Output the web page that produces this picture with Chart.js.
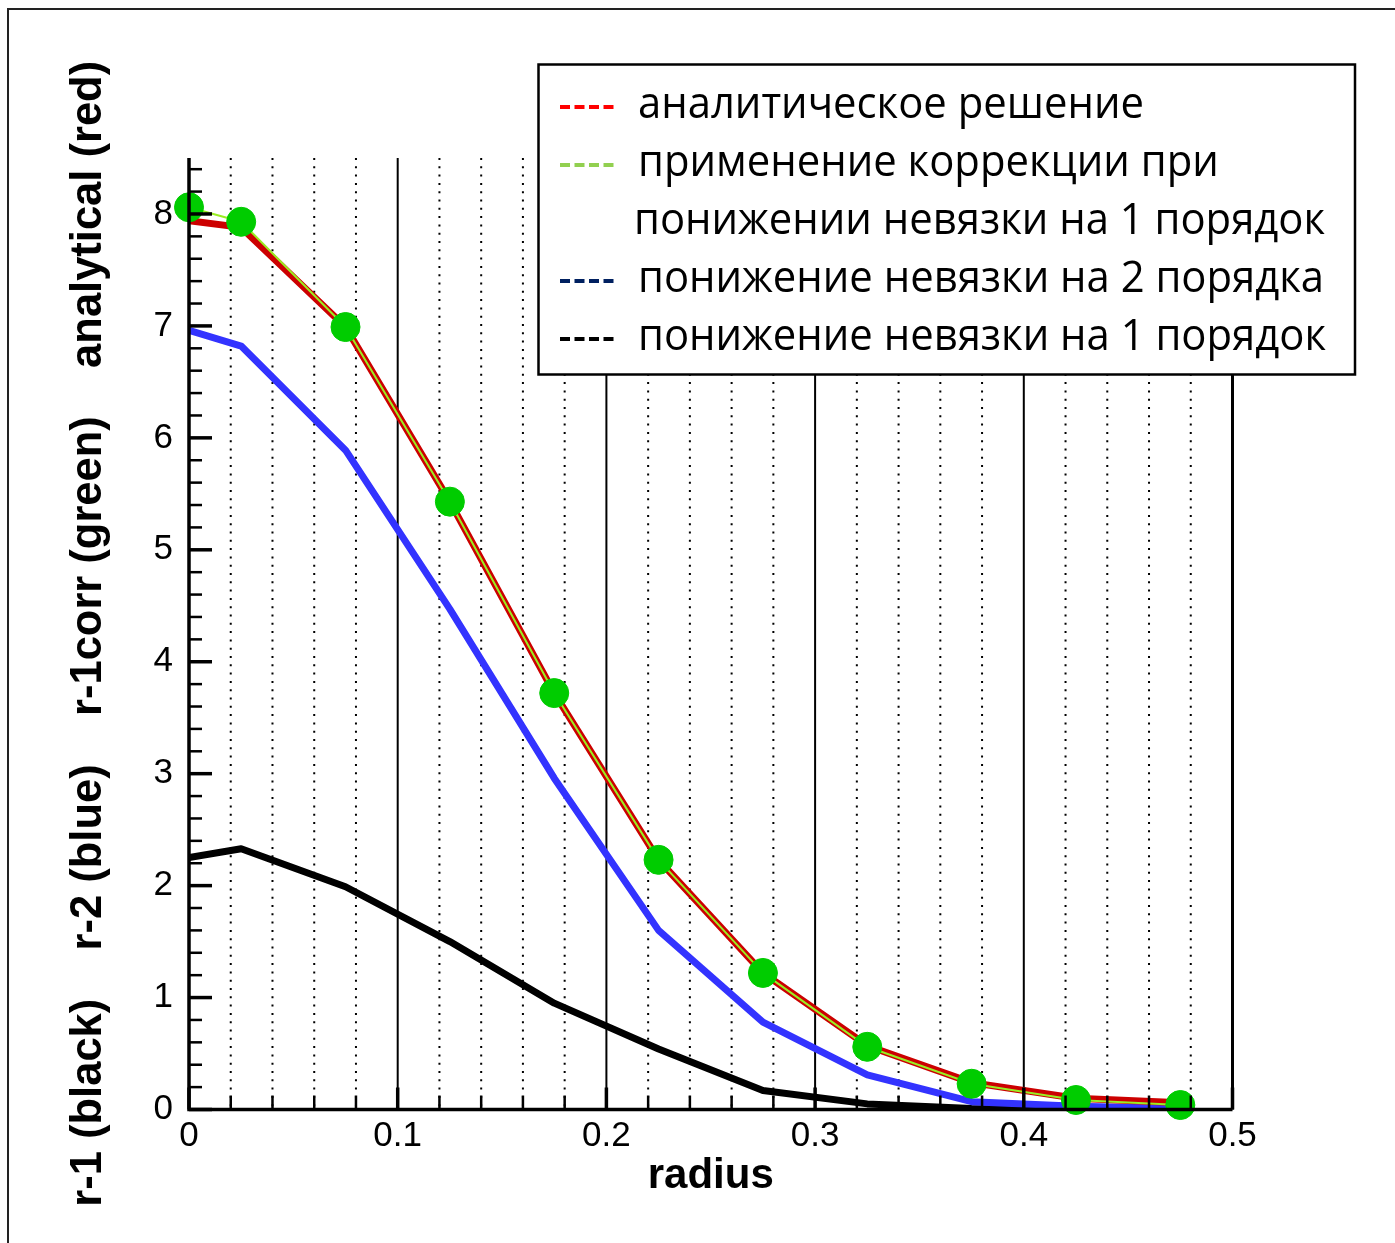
<!DOCTYPE html>
<html>
<head>
<meta charset="utf-8">
<script src="https://cdn.jsdelivr.net/npm/chart.js@4.4.0/dist/chart.umd.min.js"></script>
<style>
html, body { margin: 0; padding: 0; background: #fff; }
canvas { display: block; }
</style>
</head>
<body>
<canvas id="chart" width="1395" height="1243"></canvas>
<script>
// data
var radius     = [0, 0.025, 0.075, 0.125, 0.175, 0.225, 0.275, 0.325, 0.375, 0.425, 0.475];
var analytical = [7.94, 7.88, 6.99, 5.43, 3.72, 2.23, 1.22, 0.57, 0.24, 0.10, 0.06];
var r1corr     = [8.06, 7.93, 6.99, 5.43, 3.72, 2.23, 1.22, 0.56, 0.23, 0.085, 0.04];
var r2         = [6.96, 6.82, 5.89, 4.47, 2.96, 1.60, 0.78, 0.31, 0.07, 0.03, 0.01];
var r1         = [2.25, 2.33, 1.99, 1.50, 0.95, 0.54, 0.17, 0.05, 0.01, 0.0, 0.0];

var xTicks = [0, 0.1, 0.2, 0.3, 0.4, 0.5];
var yTicks = [0, 1, 2, 3, 4, 5, 6, 7, 8];
var xMinorStep = 0.02;
var yMinorStep = 0.2;

var yTitle = 'r-1 (black)    r-2 (blue)    r-1corr (green)    analytical (red)';
var xTitle = 'radius';

var legendLabels = [
    ['аналитическое решение'],
    ['применение коррекции при', 'понижении невязки на 1 порядок'],
    ['понижение невязки на 2 порядка'],
    ['понижение невязки на 1 порядок']
];
var legendColors = ['#ff0000', '#92d050', '#002060', '#000000'];

function pts(ys) {
    return radius.map(function (r, i) { return {x: r, y: ys[i]}; });
}

// frame, grid and inward ticks like the original plot
var framePlugin = {
    id: 'framePlugin',
    beforeDraw: function (chart) {
        var ctx = chart.ctx;
        ctx.save();
        ctx.fillStyle = '#fff';
        ctx.fillRect(0, 0, chart.width, chart.height);
        ctx.strokeStyle = '#222';
        ctx.lineWidth = 2;
        ctx.beginPath();
        ctx.moveTo(8, chart.height);
        ctx.lineTo(8, 9);
        ctx.lineTo(chart.width, 9);
        ctx.stroke();
        ctx.restore();
    },
    beforeDatasetsDraw: function (chart) {
        var ctx = chart.ctx, a = chart.chartArea, xs = chart.scales.x;
        var n = Math.round(xs.max / xMinorStep);
        ctx.save();
        ctx.strokeStyle = '#000';
        for (var i = 1; i <= n; i++) {
            var px = xs.getPixelForValue(i * xMinorStep);
            ctx.beginPath();
            if (i % 5 === 0) {
                ctx.setLineDash([]);
                ctx.lineWidth = i === n ? 3 : 2;
            } else {
                ctx.setLineDash([2, 6.3]);
                ctx.lineWidth = 2;
            }
            ctx.moveTo(px, a.top);
            ctx.lineTo(px, a.bottom);
            ctx.stroke();
        }
        ctx.restore();
    },
    afterDatasetsDraw: function (chart) {
        var ctx = chart.ctx, a = chart.chartArea, xs = chart.scales.x, ys = chart.scales.y;
        ctx.save();
        ctx.strokeStyle = '#000';
        // x ticks
        var n = Math.round(xs.max / xMinorStep);
        for (var i = 0; i <= n; i++) {
            var px = xs.getPixelForValue(i * xMinorStep);
            var major = i % 5 === 0;
            ctx.lineWidth = major ? 3.5 : 2.5;
            ctx.beginPath();
            ctx.moveTo(px, a.bottom);
            ctx.lineTo(px, a.bottom - (major ? 22 : 14));
            ctx.stroke();
        }
        // y ticks
        var m = Math.floor(ys.max / yMinorStep + 1e-6);
        for (var j = 0; j <= m; j++) {
            var py = ys.getPixelForValue(j * yMinorStep);
            var maj = j % 5 === 0;
            ctx.lineWidth = maj ? 3.5 : 2.5;
            ctx.beginPath();
            ctx.moveTo(a.left, py);
            ctx.lineTo(a.left + (maj ? 23 : 13), py);
            ctx.stroke();
        }
        // axis lines
        ctx.lineWidth = 3.5;
        ctx.beginPath();
        ctx.moveTo(a.left, a.top);
        ctx.lineTo(a.left, a.bottom);
        ctx.lineTo(a.right, a.bottom);
        ctx.stroke();
        ctx.restore();
    },
    afterDraw: function (chart) {
        var ctx = chart.ctx;
        var bx = 538.5, by = 64.5, bw = 816.5, bh = 310;
        ctx.save();
        ctx.fillStyle = '#fff';
        ctx.fillRect(bx, by, bw, bh);
        ctx.strokeStyle = '#000';
        ctx.lineWidth = 2.5;
        ctx.strokeRect(bx, by, bw, bh);

        ctx.font = '44px "Open Sans"';
        var sx = 688 / ctx.measureText(legendLabels[3][0]).width;
        var baseY = 118, step = 58, row = 0;
        for (var i = 0; i < legendLabels.length; i++) {
            var yb = baseY + row * step;
            ctx.strokeStyle = legendColors[i];
            ctx.lineWidth = 4;
            ctx.setLineDash([10, 4.5]);
            ctx.beginPath();
            ctx.moveTo(560, yb - 11);
            ctx.lineTo(614, yb - 11);
            ctx.stroke();
            ctx.setLineDash([]);
            ctx.fillStyle = '#000';
            ctx.textBaseline = 'alphabetic';
            for (var k = 0; k < legendLabels[i].length; k++) {
                var y = baseY + row * step;
                ctx.save();
                ctx.translate(k === 0 ? 638 : 634, y);
                ctx.scale(sx, 1);
                ctx.fillText(legendLabels[i][k], 0, 0);
                ctx.restore();
                row++;
            }
        }
        ctx.restore();
    }
};

var ctx1 = document.getElementById('chart');
new Chart(ctx1, {
    type: 'scatter',
    data: {
        datasets: [{
            label: legendLabels[1].join(' '),
            data: pts(r1corr),
            showLine: true,
            borderColor: '#99ee22',
            borderWidth: 2,
            pointRadius: 14.5,
            pointBorderWidth: 1,
            pointBackgroundColor: '#00cc00',
            pointBorderColor: '#00cc00',
            clip: false
        }, {
            label: legendLabels[0][0],
            data: pts(analytical),
            showLine: true,
            borderColor: '#cc0000',
            borderWidth: 7,
            pointRadius: 0
        }, {
            label: legendLabels[2][0],
            data: pts(r2),
            showLine: true,
            borderColor: '#3333ff',
            borderWidth: 7,
            pointRadius: 0
        }, {
            label: legendLabels[3][0],
            data: pts(r1),
            showLine: true,
            borderColor: '#000000',
            borderWidth: 7,
            pointRadius: 0
        }]
    },
    options: {
        responsive: false,
        animation: false,
        events: [],
        layout: {
            padding: {left: 0, top: 158, right: 162.5, bottom: 0}
        },
        plugins: {
            legend: {display: false},
            tooltip: {enabled: false}
        },
        elements: {
            line: {tension: 0, borderJoinStyle: 'round', borderCapStyle: 'round'}
        },
        scales: {
            x: {
                type: 'linear',
                min: 0,
                max: 0.5,
                afterBuildTicks: function (s) { s.ticks = xTicks.map(function (v) { return {value: v}; }); },
                afterFit: function (s) { s.height = 133.5; },
                grid: {display: false, drawTicks: false},
                border: {display: false},
                ticks: {
                    padding: 6,
                    color: '#000',
                    font: {family: '"Liberation Sans"', size: 35},
                    maxRotation: 0,
                    callback: function (v) { return v === 0 ? '0' : v.toFixed(1); }
                },
                title: {
                    display: true,
                    text: xTitle,
                    color: '#000',
                    font: {family: '"Liberation Sans"', size: 42, weight: 'bold'},
                    padding: {top: 0, bottom: 41}
                }
            },
            y: {
                type: 'linear',
                min: 0,
                max: 8.5,
                afterBuildTicks: function (s) { s.ticks = yTicks.map(function (v) { return {value: v}; }); },
                afterFit: function (s) { s.width = 189; },
                grid: {display: false, drawTicks: false},
                border: {display: false},
                ticks: {
                    padding: 16,
                    color: '#000',
                    font: {family: '"Liberation Sans"', size: 35}
                },
                title: {
                    display: true,
                    text: yTitle,
                    color: '#000',
                    font: {family: '"Liberation Sans"', size: 43.5, weight: 'bold'},
                    padding: {top: 63, bottom: 0}
                }
            }
        }
    },
    plugins: [framePlugin]
});
</script>
</body>
</html>
